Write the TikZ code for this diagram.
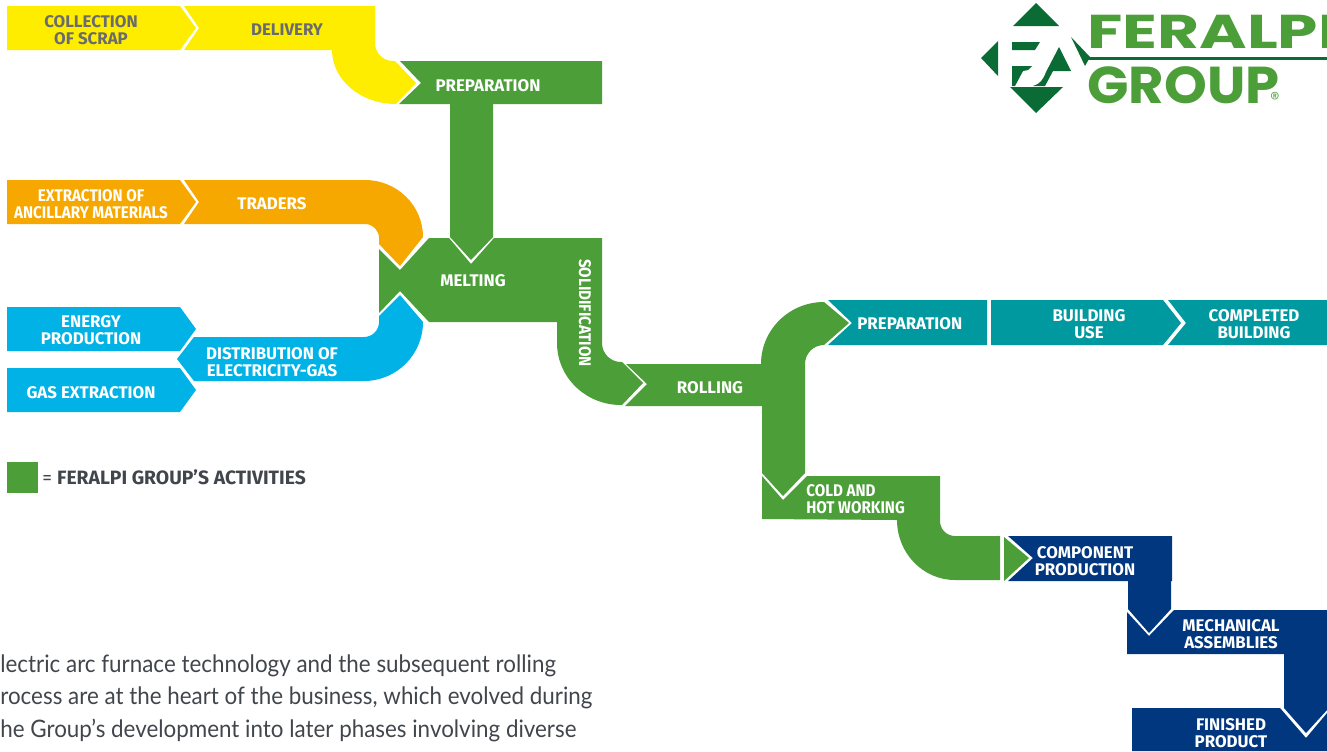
\documentclass[tikz,border=0pt]{standalone}
\usepackage{fontspec}
\setmainfont{Fira Sans}
\newfontfamily\labelfont{Fira Sans}
\newfontfamily\labelnarrow[FakeStretch=0.9]{Fira Sans}
\newfontfamily\bodyfont[FakeStretch=0.93]{Lato}
\newfontfamily\logofont[FakeStretch=1.36]{Poppins}
\newfontfamily\logofontb[FakeStretch=1.05]{Poppins}
\usepackage{tikz}
\definecolor{feryellow}{HTML}{FFED00}
\definecolor{ferorange}{HTML}{F7A800}
\definecolor{ferblue}{HTML}{00B2E6}
\definecolor{fergreen}{HTML}{4B9E38}
\definecolor{ferdark}{HTML}{0B6B35}
\definecolor{ferteal}{HTML}{0099A0}
\definecolor{fernavy}{HTML}{00377F}
\definecolor{fergrey}{HTML}{6A6B6E}
\definecolor{ferink}{HTML}{41464C}
\tikzset{
	lbl/.style={text=white, align=center, inner sep=0pt, font=\labelfont\fontsize{9.6}{9.4}\selectfont\bfseries},
	lblnarrow/.style={lbl, font=\labelnarrow\fontsize{9.6}{9.4}\selectfont\bfseries},
	lblgrey/.style={lbl, text=fergrey},
	bodyline/.style={anchor=west, inner sep=0pt, text=ferink, font=\bodyfont\fontsize{13.7}{14}\selectfont},
}
% straight tag with a pointed right end, top edge at #3
\def\tagbar[#1](#2:#3){\fill[#1] (#2, #3) -- (180, #3) -- (196, #3+22) -- (180, #3+44) -- (#2, #3+44) -- cycle;}

\begin{document}
\begin{tikzpicture}[x=0.02cm, y=-0.02cm]
			%%%%% START %%%%%
			\clip (0, 0) rectangle (1327, 751);
			
			% yellow
			\tagbar[feryellow](7:6);
			\fill[feryellow] (184, 6) -- (375, 6) -- (375, 43) arc (180:90:18) -- (395, 61) -- (416, 83) -- (396, 104) arc (90:180:64 and 54) -- (184, 50) -- (199, 28) -- cycle;
			
			% orange
			\tagbar[ferorange](7:180);
			\fill[ferorange] (184, 180) -- (365, 180) arc (-90:0:58 and 57) -- (400, 266) -- (379, 244) -- (379, 238) arc (0:-90:14) -- (184, 224) -- (199, 202) -- cycle;
			
			% blue
			\tagbar[ferblue](7:307);
			\tagbar[ferblue](7:368);
			\fill[ferblue] (194, 337) -- (364, 337) arc (90:0:15) -- (379, 316) -- (400, 295) -- (423, 322) arc (0:90:59) -- (194, 381) -- (177, 359) -- cycle;
			
			% green
			\fill[fergreen] (400, 61) -- (602, 61) -- (602, 104) -- (493, 104) -- (493, 237) -- (471, 260) -- (450, 237) -- (450, 104) -- (399, 104) -- (421, 83) -- cycle;
			\fill[fergreen] (429, 238) -- (449, 238) -- (471, 264) -- (494, 238) -- (602, 238) -- (602, 343) arc (180:90:19) -- (622, 362) -- (643, 383) -- (622, 405) -- (621, 405) arc (90:180:64 and 62) -- (557, 322) -- (429, 322) -- (400, 291) -- (379, 313) -- (379, 249) -- (400, 270) -- cycle;
			\fill[fergreen] (626, 364) -- (761, 364) arc (180:270:63 and 62) -- (849, 323) -- (824, 345) arc (270:180:19) -- (805, 473) -- (783, 496) -- (762, 473) -- (762, 406) -- (625, 406) -- (647, 384) -- cycle;
			\fill[fergreen] (762, 476) -- (783, 500) -- (807, 476) -- (940, 476) -- (940, 521) arc (180:90:15) -- (1000, 536) -- (1000, 580) -- (955, 580) arc (90:180:58 and 60) -- (762, 519) -- cycle;
			\fill[fergreen] (1004, 537) -- (1029, 558) -- (1004, 581) -- cycle;
			
			% teal
			\fill[ferteal] (828, 300) -- (987, 300) -- (987, 345) -- (828, 345) -- (852, 323) -- cycle;
			\fill[ferteal] (991, 300) -- (1163, 300) -- (1181, 323) -- (1163, 345) -- (991, 345) -- cycle;
			\fill[ferteal] (1168, 300) -- (1327, 300) -- (1327, 345) -- (1168, 345) -- (1186, 323) -- cycle;
			
			% navy
			\fill[fernavy] (1008, 536) -- (1172, 536) -- (1172, 581) -- (1171, 581) -- (1171, 609) -- (1149, 633) -- (1128, 609) -- (1128, 581) -- (1008, 581) -- (1033, 558) -- cycle;
			\fill[fernavy] (1127, 612) -- (1149, 636) -- (1174, 610) -- (1327, 610) -- (1327, 710) -- (1306, 733) -- (1284, 708) -- (1284, 654) -- (1127, 654) -- cycle;
			\fill[fernavy] (1132, 708) -- (1280, 708) -- (1306, 738) -- (1327, 713) -- (1327, 751) -- (1132, 751) -- cycle;
			
			% legend
			\fill[fergreen] (7, 462) rectangle (38, 493);
			
			% labels
			\node[lblgrey] (collect) at (91, 30) {COLLECTION\\OF SCRAP};
			\node[lblgrey] (deliver) at (287, 30) {DELIVERY};
			\node[lbl] (prep) at (488, 86) {PREPARATION};
			\node[lblnarrow] (extract) at (91, 204) {EXTRACTION OF\\ANCILLARY MATERIALS};
			\node[lbl] (traders) at (272, 204) {TRADERS};
			\node[lbl] (melt) at (473, 281) {MELTING};
			\node[lbl] (energy) at (91, 330) {ENERGY\\PRODUCTION};
			\node[lbl] (gasx) at (91, 393) {GAS EXTRACTION};
			\node[lbl] (distrib) at (272, 362) {DISTRIBUTION OF\\ELECTRICITY-GAS};
			\node[lblnarrow, rotate=-90] (solid) at (585, 313) {SOLIDIFICATION};
			\node[lbl] (roll) at (710, 388) {ROLLING};
			\node[lbl, anchor=west] (prept) at (857, 324) {PREPARATION};
			\node[lbl] (build) at (1089, 324) {BUILDING\\USE};
			\node[lbl] (done) at (1254, 324) {COMPLETED\\BUILDING};
			\node[lblnarrow, anchor=west, align=left] (cold) at (806, 499) {COLD AND\\HOT WORKING};
			\node[lbl] (comp) at (1085, 561) {COMPONENT\\PRODUCTION};
			\node[lbl] (mech) at (1231, 634) {MECHANICAL\\ASSEMBLIES};
			\node[lbl] (finish) at (1231, 733) {FINISHED\\PRODUCT};
			
			\node[lbl, anchor=west, text=ferink, font=\labelfont\fontsize{11}{12}\selectfont] (legend) at (42, 477) {= \textbf{FERALPI GROUP’S ACTIVITIES}};
			
			\node[bodyline] (body1) at (0, 666) {lectric arc furnace technology and the subsequent rolling};
			\node[bodyline] (body2) at (0, 698) {rocess are at the heart of the business, which evolved during};
			\node[bodyline] (body3) at (0, 730) {he Group’s development into later phases involving diverse};
			
			% logo
			\fill[ferdark] (1036, 3) -- (1059, 26) -- (1013, 26) -- cycle;
			\fill[ferdark] (981, 58) -- (998, 41) -- (998, 76) -- cycle;
			\fill[ferdark] (1010, 87) -- (1063, 87) -- (1036, 113) -- cycle;
			\fill[ferdark] (1071, 37) -- (1090, 57) -- (1085, 66) -- cycle;
			\fill[ferdark] (1012, 42) -- (1040, 42) -- (1035, 50) -- (1012, 50) -- cycle;
			\fill[ferdark] (1012, 66) -- (1032, 66) -- (1028, 70) -- (1023, 71) -- (1015, 86) -- (1012, 86) -- cycle;
			\fill[ferdark] (1059, 47) -- (1071, 71) -- (1053, 71) -- (1045, 86) -- (1033, 86) .. controls (1040, 84) and (1043, 80) .. (1046, 72) -- cycle;
			\fill[ferdark] (1085, 57) rectangle (1327, 60);
			\node[anchor=west, inner sep=0pt, text=fergreen, font=\logofont\fontsize{27}{27}\selectfont\bfseries] (logotop) at (1087, 32) {FERALPI};
			\node[anchor=west, inner sep=0pt, text=fergreen, font=\logofontb\fontsize{29.5}{29.5}\selectfont\bfseries] (logobot) at (1087, 85) {GROUP};
			\node[inner sep=0pt, text=fergreen, font=\labelfont\fontsize{8.5}{8.5}\selectfont] (logoreg) at (1275, 98) {®};
			
			%%%%% END %%%%%
		\end{tikzpicture}
\end{document}
